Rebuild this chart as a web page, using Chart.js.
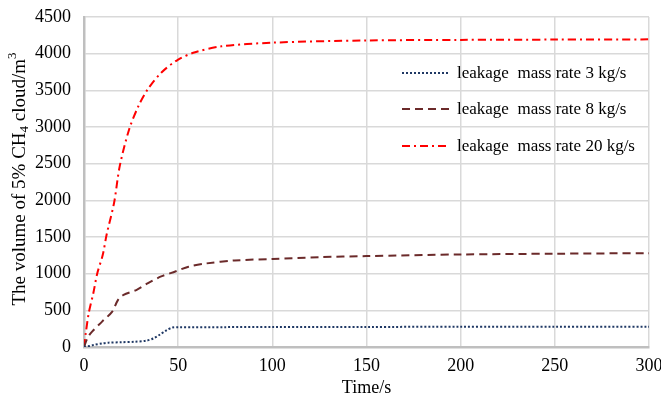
<!DOCTYPE html>
<html><head><meta charset="utf-8">
<script src="https://cdn.jsdelivr.net/npm/chart.js@4/dist/chart.umd.min.js"></script>
<style>html,body{margin:0;padding:0;background:#fff}#wrap{width:661px;height:401px}</style>
</head><body><div id="wrap"><canvas id="c" width="661" height="401"></canvas></div>
<script>
const seriesLabels = ['leakage  mass rate 3 kg/s','leakage  mass rate 8 kg/s','leakage  mass rate 20 kg/s'];
const t3 = [0,1,3,5,10,13,20,27,33,37,40,44,47,50,75,100,150,200,250,300];
const v3 = [0,8,15,27,50,59,65,72,86,119,164,232,265,270,271,272,274,275,276,277];
const t8 = [0,2,4.3,9.6,15,18,21,28,34,41,48.5,55.5,65,80,100,125,150,200,250,300];
const v8 = [0,130,210,346,483,640,711,780,871,962,1030,1095,1140,1180,1200,1225,1240,1262,1272,1280];
const t20 = [0,1,2.5,5,7,10,12,16,19,24,29,34,41,50,59,73,100,150,200,250,300];
const v20 = [0,200,460,740,1000,1260,1530,1970,2470,2970,3290,3520,3740,3920,4020,4100,4150,4180,4188,4192,4195];
const xTicks = [0,50,100,150,200,250,300];
const yTicks = [0,500,1000,1500,2000,2500,3000,3500,4000,4500];

const FONT = '"Liberation Serif","Times New Roman",serif';
const pts = (t,v)=>t.map((x,i)=>({x:x,y:v[i]}));

const legendPlugin = {
  id:'customLegend',
  afterDatasetsDraw(chart){
    const ctx = chart.ctx;
    const rowsY = [73,109,146];
    chart.data.datasets.forEach((ds,i)=>{
      const y = rowsY[i];
      ctx.save();
      ctx.strokeStyle = ds.borderColor;
      ctx.lineWidth = ds.borderWidth;
      ctx.setLineDash(ds.borderDash||[]);
      ctx.beginPath(); ctx.moveTo(402,y); ctx.lineTo(450,y); ctx.stroke();
      ctx.setLineDash([]);
      ctx.fillStyle = '#000';
      ctx.font = '17px ' + FONT;
      ctx.textBaseline = 'middle';
      ctx.textAlign = 'left';
      ctx.fillText(ds.label, 457, y+1);
      ctx.restore();
    });
  },
  afterDraw(chart){
    const ctx = chart.ctx;
    ctx.save();
    ctx.fillStyle = '#000';
    ctx.font = '18px ' + FONT;
    ctx.textAlign = 'center'; ctx.textBaseline = 'middle';
    ctx.fillText('Time/s', (chart.chartArea.left+chart.chartArea.right)/2, 388);
    const parts = [
      {t:'The volume of 5% CH', s:19, dy:0},
      {t:'4', s:13, dy:5},
      {t:' cloud/m', s:19, dy:0},
      {t:'3', s:13, dy:-7}
    ];
    let total = 0;
    parts.forEach(p=>{ctx.font = p.s+'px '+FONT; p.w = ctx.measureText(p.t).width; total += p.w;});
    ctx.translate(20, 179);
    ctx.rotate(-Math.PI/2);
    ctx.textAlign = 'left'; ctx.textBaseline = 'middle';
    let x = -total/2;
    parts.forEach(p=>{ctx.font = p.s+'px '+FONT; ctx.fillText(p.t, x, p.dy); x += p.w;});
    ctx.restore();
  }
};

new Chart(document.getElementById('c'), {
  type:'line',
  data:{datasets:[
    {label:seriesLabels[0], data:pts(t3,v3), borderColor:'#1f3864', borderWidth:2, borderDash:[2,2], pointRadius:0, tension:0.3, fill:false},
    {label:seriesLabels[1], data:pts(t8,v8), borderColor:'#6b2a2a', borderWidth:2, borderDash:[8,5], pointRadius:0, tension:0.3, fill:false},
    {label:seriesLabels[2], data:pts(t20,v20), borderColor:'#ff0000', borderWidth:2, borderDash:[8,4,2,4], pointRadius:0, tension:0.3, fill:false}
  ]},
  options:{
    responsive:false, animation:false, devicePixelRatio:1,
    layout:{padding:{left:0,right:12,top:17,bottom:0}},
    plugins:{legend:{display:false}, tooltip:{enabled:false}},
    scales:{
      x:{type:'linear', min:0, max:300,
        afterBuildTicks:(s)=>{s.ticks = xTicks.map(v=>({value:v}));},
        afterFit:(s)=>{s.height = 54; s.paddingLeft = 0; s.paddingRight = 0;},
        grid:{color:(c)=>c.tick.value===0?'rgba(0,0,0,0)':'#d9d9d9', lineWidth:1.5, drawTicks:false},
        border:{color:'#bfbfbf', width:2.5},
        ticks:{font:{family:FONT,size:18}, color:'#000', padding:8, maxRotation:0, autoSkip:false, callback:(v)=>String(v)}
      },
      y:{type:'linear', min:0, max:4500,
        afterBuildTicks:(s)=>{s.ticks = yTicks.map(v=>({value:v}));},
        afterFit:(s)=>{s.width = 84; s.paddingTop = 0; s.paddingBottom = 0;},
        grid:{color:(c)=>c.tick.value===0?'rgba(0,0,0,0)':'#d9d9d9', lineWidth:1.5, drawTicks:false},
        border:{color:'#bfbfbf', width:2.5},
        ticks:{font:{family:FONT,size:18}, color:'#000', padding:13, callback:(v)=>String(v)}
      }
    }
  },
  plugins:[legendPlugin]
});
</script>
</body></html>
